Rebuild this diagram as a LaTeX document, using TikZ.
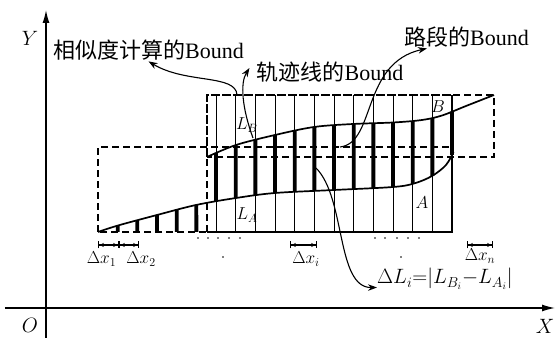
\documentclass[tikz,border=0pt]{standalone}
\usepackage{fontspec}
\setmainfont{Liberation Serif}
\newfontfamily\cjk{Noto Sans CJK SC}
\usepackage{tikz}
\usetikzlibrary{arrows.meta, calc, intersections}

\begin{document}
\begin{tikzpicture}[x=1pt, y=1pt,
    axis/.style={-{Latex[length=13pt, width=7pt]}, line width=1.4pt},
    bound/.style={dash pattern=on 7pt off 4pt, line width=1.3pt},
    traj/.style={line width=1.7pt},
    slice/.style={line width=1pt},
    bar/.style={line width=3.8pt},
    note/.style={-{Stealth[length=9pt, width=6.5pt]}, line width=1.1pt},
    span/.style={{Bar[width=7pt]Stealth[length=4.5pt, width=4pt]}-{Stealth[length=4.5pt, width=4pt]Bar[width=7pt]}, line width=1.3pt},
    lbl/.style={font=\fontsize{22}{24}\selectfont, inner sep=1pt},
    sym/.style={font=\fontsize{20}{24}\selectfont, inner sep=0pt},
    small/.style={font=\fontsize{17.28}{20}\selectfont, inner sep=0pt}
]
\useasboundingbox (-46,-31) rectangle (511,308);

% axes
\coordinate (O) at (0,0);
\coordinate (xs) at (-41,0);
\coordinate (xe) at (509,0);
\coordinate (ys) at (0,-30);
\coordinate (ye) at (0,298);
\draw[axis] (xs) -- (xe);
\draw[axis] (ys) -- (ye);
\node[sym] (oLbl) at (-16,-17) {$O$};
\node[sym] (xLbl) at (499,-18) {$X$};
\node[sym] (yLbl) at (-16,270) {$Y$};

% bounds
\draw[bound] (52,76) rectangle (406,161);
\draw[bound] (161,151) rectangle (448,213);
\draw[bound] (161,76) rectangle (406,213);
\draw[bound, line width=2.8pt] (406,76) -- (406,213);

% trajectories
\draw[traj, name path=trA] plot[smooth, tension=0.55] coordinates {(52,76) (72,82.5) (111,93) (150,103) (190,110) (229,115) (288,118) (347,121) (368,124.5) (386,132) (400,143) (407.5,156)};
\draw[traj, name path=trB] plot[smooth, tension=0.55] coordinates {(161,151) (190,163) (229,173) (268,181) (307,184) (347,185.5) (376,188) (396,192.5) (420,202) (448,213)};

% slices
\foreach \k in {6,...,17}
  \draw[slice] ({52+19.67*\k},76) -- ({52+19.67*\k},213);
\foreach \k in {1,...,5}{
  \path[name path=cut] ({52+19.67*\k},60) -- ++(0,170);
  \draw[bar, name intersections={of=cut and trA, by=a}] (a) -- ({52+19.67*\k},76);
}
\foreach \k in {6,...,18}{
  \path[name path=cut] ({52+19.67*\k},60) -- ++(0,170);
  \draw[bar, name intersections={of=cut and trA, by=a}, name intersections={of=cut and trB, by=b}] (a) -- (b);
}

\node[small] (lb) at (201,183) {$L_B$};
\node[small] (la) at (201,93) {$L_A$};
\node[small] (bLbl) at (392,201) {$B$};
\node[small] (aLbl) at (376,105) {$A$};

% dots
\foreach \x in {152,162,172,183,194,329,339,351,362,373}
  \fill (\x,70) circle (0.9pt);
\fill (177,51) circle (0.9pt);
\fill (355,51) circle (0.9pt);

% delta x
\coordinate (d0) at (52,63);
\coordinate (d1) at (73,63);
\coordinate (d2) at (93,63);
\coordinate (di0) at (244,63);
\coordinate (di1) at (271,63);
\coordinate (dn0) at (421,63);
\coordinate (dn1) at (447,63);
\draw[span] (d0) -- (d1);
\draw[span] (d1) -- (d2);
\draw[span] (di0) -- (di1);
\draw[span] (dn0) -- (dn1);
\node[small, anchor=base] (dx1) at (55.5,44) {$\Delta x_1$};
\node[small, anchor=base] (dx2) at (95,44) {$\Delta x_2$};
\node[small, anchor=base] (dxi) at (260,44) {$\Delta x_i$};
\node[small, anchor=base] (dxn) at (434,47) {$\Delta x_n$};

% notes
\node[lbl] (simLbl) at (102.5,258) {{\cjk 相似度计算的}Bound};
\node[lbl] (trajLbl) at (284,236) {{\cjk 轨迹线的}Bound};
\node[lbl] (segLbl) at (420.5,271) {{\cjk 路段的}Bound};
\node[sym, anchor=base west] (dL) at (331,24) {$\Delta L_i{=}|L_{B_i}{-}L_{A_i}|$};

\coordinate (simPt) at (191,213);
\coordinate (trajPt) at (207,170);
\coordinate (segPt) at (294,161);
\coordinate (dLPt) at (270,140);
\draw[note] (simPt) .. controls (190,234) and (140,224) .. (simLbl.south);
\draw[note] (trajPt) .. controls (196,200) and (194,225) .. ([xshift=-6pt, yshift=4pt]trajLbl.west);
\draw[note] (segPt) .. controls (330,165) and (315,245) .. ([xshift=24pt]segLbl.south west);
\draw[note] (dLPt) .. controls (300,110) and (290,20) .. ([yshift=2pt]dL.south west);
\end{tikzpicture}
\end{document}
